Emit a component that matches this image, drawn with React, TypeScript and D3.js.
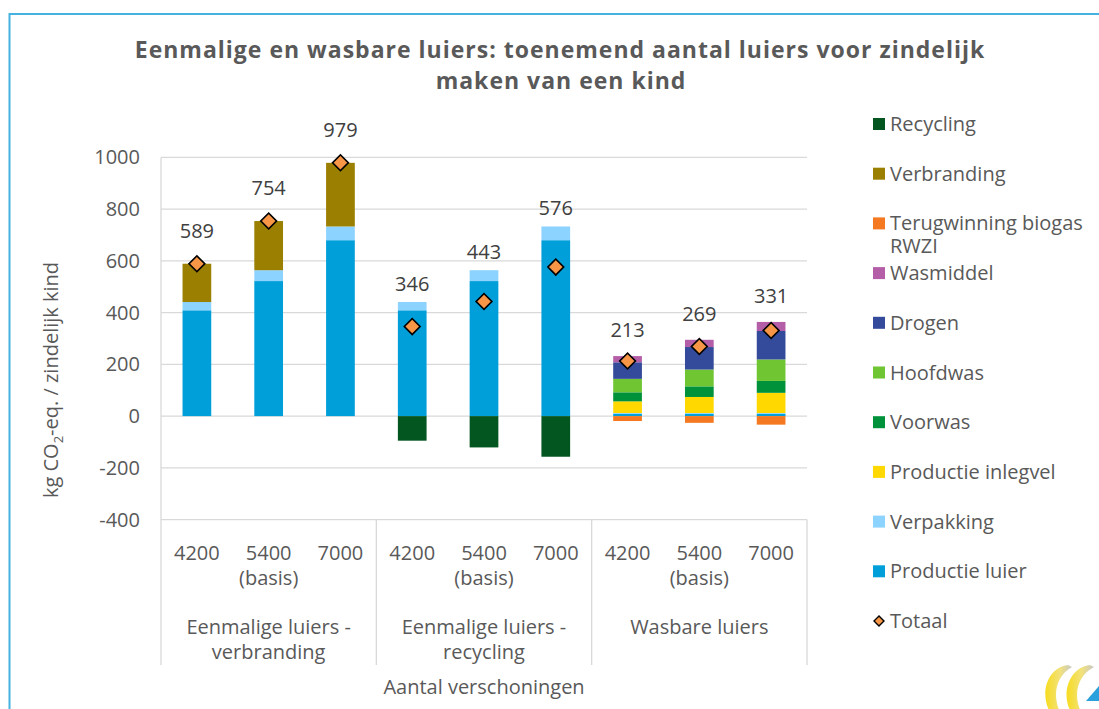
import React from 'react';
import * as d3 from 'd3';

// ---------- DATA ----------
const categories = ['4200', '5400', '7000', '4200', '5400', '7000', '4200', '5400', '7000'];
const subLabels = ['', '(basis)', '', '', '(basis)', '', '', '(basis)', ''];
const groupLabels = [
  ['Eenmalige luiers -', 'verbranding'],
  ['Eenmalige luiers -', 'recycling'],
  ['Wasbare luiers'],
];

const productieLuier = [409, 522, 680, 409, 522, 680, 9, 9, 9];
const verpakking = [32, 42, 53, 32, 42, 53, 3, 3, 3];
const productieInlegvel = [0, 0, 0, 0, 0, 0, 45, 62, 78];
const voorwas = [0, 0, 0, 0, 0, 0, 35, 41, 46];
const hoofdwas = [0, 0, 0, 0, 0, 0, 52, 65, 83];
const drogen = [0, 0, 0, 0, 0, 0, 64, 87, 110];
const wasmiddel = [0, 0, 0, 0, 0, 0, 24, 28, 35];
const terugwinningBiogas = [0, 0, 0, 0, 0, 0, -19, -26, -33];
const verbranding = [148, 190, 246, 0, 0, 0, 0, 0, 0];
const recycling = [0, 0, 0, -95, -121, -157, 0, 0, 0];
const totaal = [589, 754, 979, 346, 443, 576, 213, 269, 331];

const yTicks = [-400, -200, 0, 200, 400, 600, 800, 1000];

// stacking order bottom -> top
const seriesDefs = [
  { key: 'Productie luier', values: productieLuier, color: '#009FDA' },
  { key: 'Verpakking', values: verpakking, color: '#8DD3FF' },
  { key: 'Productie inlegvel', values: productieInlegvel, color: '#FFD800' },
  { key: 'Voorwas', values: voorwas, color: '#00923A' },
  { key: 'Hoofdwas', values: hoofdwas, color: '#6FC632' },
  { key: 'Drogen', values: drogen, color: '#344A9A' },
  { key: 'Wasmiddel', values: wasmiddel, color: '#B55EA8' },
  { key: 'Terugwinning biogas RWZI', values: terugwinningBiogas, color: '#F47920' },
  { key: 'Verbranding', values: verbranding, color: '#9B7F00' },
  { key: 'Recycling', values: recycling, color: '#03561F' },
];

const FONT = '"Open Sans", sans-serif';
const TXT = '#595959';
const FS = 20;

export default function App() {
  const W = 1099, H = 709;
  const plotL = 161, plotR = 807, plotT = 157.4, plotB = 519.6;
  const axisBottom = 665;

  const x = d3.scaleBand<number>()
    .domain(categories.map((_, i) => i))
    .range([plotL, plotR])
    .paddingInner(0.6)
    .paddingOuter(0.3);
  const step = x.step();
  const y = d3.scaleLinear().domain([-400, 1000]).range([plotB, plotT]);

  const rows = categories.map((_, i) => {
    const r: Record<string, number> = {};
    seriesDefs.forEach(s => { r[s.key] = s.values[i]; });
    return r;
  });
  const stack = d3.stack<Record<string, number>>()
    .keys(seriesDefs.map(s => s.key))
    .offset(d3.stackOffsetDiverging);
  const layers = stack(rows);

  const posTop = categories.map((_, i) =>
    d3.sum(seriesDefs, s => Math.max(0, s.values[i])));

  const groupOf = (i: number) => Math.floor(i / 3);
  const labelOffset = [26, 11, 19];

  const diamond = d3.symbol().type(d3.symbolSquare).size(125)();
  const legendDiamond = d3.symbol().type(d3.symbolSquare).size(50)();

  const legendItems = [...seriesDefs].reverse();
  const legendX = 873, legendY0 = 124, legendStep = 49.7;

  const groupBounds = [0, 3, 6, 9].map(k => plotL + k * step);

  return (
    <svg width={W} height={H} style={{ position: 'absolute', left: 0, top: 0 }}
      fontFamily={FONT}>
      <rect x={0} y={0} width={W} height={H} fill="#fff" />
      <rect x={9.5} y={14} width={1300} height={900} fill="none" stroke="#45B2E0" strokeWidth={2} />

      {/* Title */}
      <text x={560} y={58} textAnchor="middle" fontSize={23} letterSpacing={1} fontWeight="bold" fill={TXT}>
        Eenmalige en wasbare luiers: toenemend aantal luiers voor zindelijk
      </text>
      <text x={561} y={89} textAnchor="middle" fontSize={23} letterSpacing={1} fontWeight="bold" fill={TXT}>
        maken van een kind
      </text>

      {/* gridlines */}
      {yTicks.map(t => (
        <line key={t} x1={plotL} x2={plotR} y1={y(t)} y2={y(t)} stroke="#D9D9D9" strokeWidth={1.3} />
      ))}
      <line x1={plotL} x2={plotL} y1={plotT} y2={axisBottom} stroke="#D9D9D9" strokeWidth={1.3} />
      {groupBounds.slice(1).map((gx, k) => (
        <line key={k} x1={gx} x2={gx} y1={plotB} y2={axisBottom} stroke="#D9D9D9" strokeWidth={1.3} />
      ))}

      {/* y ticks */}
      {yTicks.map(t => (
        <text key={t} x={140} y={y(t)} dy="0.35em" textAnchor="end" fontSize={FS} fill={TXT}>{t}</text>
      ))}

      {/* y axis title */}
      <text transform={`translate(58,380) rotate(-90)`} textAnchor="middle" fontSize={FS} fill={TXT}>
        kg CO<tspan fontSize={13} dy={5}>2</tspan><tspan dy={-5}>-eq. / zindelijk kind</tspan>
      </text>

      {/* bars */}
      {layers.map((layer, li) => (
        <g key={layer.key} fill={seriesDefs[li].color}>
          {layer.map((d, i) => {
            const h = Math.abs(y(d[0]) - y(d[1]));
            if (h < 0.01) return null;
            return (
              <rect key={i} x={x(i)} width={x.bandwidth()}
                y={Math.min(y(d[0]), y(d[1]))} height={h} />
            );
          })}
        </g>
      ))}

      {/* totals */}
      {totaal.map((v, i) => (
        <path key={i} d={diamond!}
          transform={`translate(${x(i)! + x.bandwidth() / 2},${y(v)}) rotate(45)`}
          fill="#F79646" stroke="#000" strokeWidth={1.6} />
      ))}
      {totaal.map((v, i) => (
        <text key={i} x={x(i)! + x.bandwidth() / 2} y={y(posTop[i]) - labelOffset[groupOf(i)]}
          textAnchor="middle" fontSize={FS} fill="#404040">{v}</text>
      ))}

      {/* category labels */}
      {categories.map((c, i) => (
        <g key={i}>
          <text x={x(i)! + x.bandwidth() / 2} y={560} textAnchor="middle" fontSize={FS} fill={TXT}>{c}</text>
          {subLabels[i] && (
            <text x={x(i)! + x.bandwidth() / 2} y={585} textAnchor="middle" fontSize={FS} fill={TXT}>{subLabels[i]}</text>
          )}
        </g>
      ))}
      {groupLabels.map((lines, g) => (
        <text key={g} x={(groupBounds[g] + groupBounds[g + 1]) / 2} textAnchor="middle" fontSize={FS} fill={TXT}>
          {lines.map((l, k) => (
            <tspan key={k} x={(groupBounds[g] + groupBounds[g + 1]) / 2} y={634 + k * 25}>{l}</tspan>
          ))}
        </text>
      ))}
      <text x={(plotL + plotR) / 2} y={694} textAnchor="middle" fontSize={FS} fill={TXT}>Aantal verschoningen</text>

      {/* legend */}
      {legendItems.map((s, k) => {
        const cy = legendY0 + k * legendStep;
        const lines = s.key === 'Terugwinning biogas RWZI' ? ['Terugwinning biogas', 'RWZI'] : [s.key];
        return (
          <g key={s.key}>
            <rect x={legendX} y={cy - 6} width={12} height={12} fill={s.color} />
            <text fontSize={FS} fill={TXT}>
              {lines.map((l, j) => (
                <tspan key={j} x={legendX + 17} y={cy + 7 + j * 23}>{l}</tspan>
              ))}
            </text>
          </g>
        );
      })}
      {(() => {
        const cy = legendY0 + legendItems.length * legendStep;
        return (
          <g>
            <path d={legendDiamond!} transform={`translate(${legendX + 6},${cy}) rotate(45)`}
              fill="#F79646" stroke="#000" strokeWidth={1.4} />
            <text x={legendX + 17} y={cy + 7} fontSize={FS} fill={TXT}>Totaal</text>
          </g>
        );
      })()}

      {/* logo */}
      <defs>
        <linearGradient id="lg" x1="0" x2="1" y1="0" y2="0">
          <stop offset="0" stopColor="#F7DC1E" />
          <stop offset="0.55" stopColor="#F2E27A" />
          <stop offset="1" stopColor="#C8C8C8" />
        </linearGradient>
      </defs>
      <path d="M1068,665 C1046,668 1040,695 1050,712 L1060,712 C1052,695 1056,676 1072,667 Z" fill="url(#lg)" />
      <path d="M1090,665 C1068,668 1061,695 1071,712 L1081,712 C1073,695 1077,676 1094,667 Z" fill="url(#lg)" />
      <path d="M1099,686 L1086,701 L1099,701 Z" fill="#2AA0DC" />
    </svg>
  );
}
